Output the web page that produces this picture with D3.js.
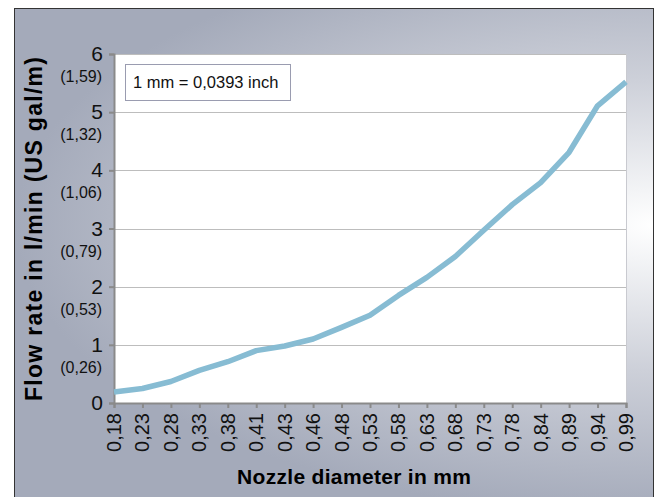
<!DOCTYPE html>
<html>
<head>
<meta charset="utf-8">
<script src="https://cdn.jsdelivr.net/npm/d3@7"></script>
<style>
  html, body { margin: 0; padding: 0; background: #fff; }
  svg { display: block; font-family: Arial, "Liberation Sans", sans-serif; }
</style>
</head>
<body>
<svg id="chart" width="658" height="497"></svg>
<script>
const categories = ["0,18","0,23","0,28","0,33","0,38","0,41","0,43","0,46","0,48","0,53","0,58","0,63","0,68","0,73","0,78","0,84","0,89","0,94","0,99"];
const flowValues = [0.19,0.25,0.37,0.56,0.71,0.90,0.98,1.10,1.30,1.51,1.85,2.16,2.52,2.97,3.41,3.79,4.31,5.11,5.52];
const yTicks = [0,1,2,3,4,5,6];
const yGalLabels = ["", "(0,26)", "(0,53)", "(0,79)", "(1,06)", "(1,32)", "(1,59)"];
const yTitle = "Flow rate in l/min (US gal/m)";
const xTitle = "Nozzle diameter in mm";
const noteText = "1 mm = 0,0393 inch";

const svg = d3.select("#chart");
const defs = svg.append("defs");
const grad = defs.append("radialGradient")
  .attr("id", "bg").attr("gradientUnits", "userSpaceOnUse")
  .attr("cx", 0).attr("cy", 0).attr("r", 1)
  .attr("gradientTransform", "translate(655,225) scale(640,290)");
grad.append("stop").attr("offset", 0).attr("stop-color", "#ffffff");
grad.append("stop").attr("offset", 0.12).attr("stop-color", "#f3f4f6");
grad.append("stop").attr("offset", 0.5).attr("stop-color", "#cdd0d9");
grad.append("stop").attr("offset", 1).attr("stop-color", "#a4aaba");

svg.append("rect").attr("x", 14.5).attr("y", 8.5).attr("width", 639).attr("height", 500)
  .attr("fill", "url(#bg)").attr("stroke", "#333").attr("stroke-width", 1);

const pL = 114, pR = 626, pT = 54, pB = 403;
const x = d3.scalePoint().domain(categories).range([pL, pR]).padding(0);
const y = d3.scaleLinear().domain([0, 6]).range([pB, pT]);

// plot area
svg.append("rect").attr("x", pL).attr("y", pT).attr("width", pR - pL).attr("height", pB - pT)
  .attr("fill", "#fff");
svg.append("line").attr("x1", pR + 0.5).attr("x2", pR + 0.5).attr("y1", pT).attr("y2", pB)
  .attr("stroke", "#c9cad0").attr("stroke-width", 1);

// gridlines
svg.append("g").selectAll("line").data(yTicks.filter(d => d > 0)).join("line")
  .attr("x1", pL).attr("x2", pR)
  .attr("y1", d => Math.round(y(d)) + 0.5).attr("y2", d => Math.round(y(d)) + 0.5)
  .attr("stroke", "#bdbdbd").attr("stroke-width", 1.2);

// y axis
const yAxis = svg.append("g").attr("transform", `translate(${pL},0)`)
  .call(d3.axisLeft(y).tickValues(yTicks).tickSize(5).tickFormat(""));
yAxis.select(".domain").attr("stroke", "#8a8a8a").attr("stroke-width", 2);
yAxis.selectAll(".tick line").attr("stroke", "#8a8a8a").attr("stroke-width", 2);

svg.append("g").selectAll("text").data(yTicks).join("text")
  .attr("x", 103).attr("y", d => y(d) + 7)
  .attr("text-anchor", "end").attr("font-size", 21).attr("fill", "#111")
  .text(d => d);
svg.append("g").selectAll("text").data(yTicks).join("text")
  .attr("x", 102).attr("y", d => y(d) + 28)
  .attr("text-anchor", "end").attr("font-size", 16).attr("fill", "#111")
  .text((d, i) => yGalLabels[i]);

// x axis
const xAxis = svg.append("g").attr("transform", `translate(0,${pB})`)
  .call(d3.axisBottom(x).tickSize(5).tickFormat(""));
xAxis.select(".domain").attr("stroke", "#8a8a8a").attr("stroke-width", 2);
xAxis.selectAll(".tick line").attr("stroke", "#8a8a8a").attr("stroke-width", 2);

svg.append("g").selectAll("text").data(categories).join("text")
  .attr("transform", d => `translate(${x(d) + 7},${pB + 10}) rotate(-90)`)
  .attr("text-anchor", "end").attr("font-size", 20).attr("fill", "#111")
  .text(d => d);

// line
const line = d3.line().x((d, i) => x(categories[i])).y(d => y(d));
svg.append("path").datum(flowValues).attr("d", line)
  .attr("fill", "none").attr("stroke", "#87bcd3").attr("stroke-width", 5.5)
  .attr("stroke-linejoin", "round");

// note box
svg.append("rect").attr("x", 125.5).attr("y", 64.5).attr("width", 165).attr("height", 36)
  .attr("fill", "#fff").attr("stroke", "#9a9cb0").attr("stroke-width", 1);
svg.append("text").attr("x", 133).attr("y", 88).attr("font-size", 16.5).attr("fill", "#111").text(noteText);

// titles
svg.append("text").attr("transform", "translate(42,229) rotate(-90)")
  .attr("text-anchor", "middle").attr("font-size", 23).attr("font-weight", "bold").attr("fill", "#000")
  .attr("textLength", 344).attr("lengthAdjust", "spacing")
  .text(yTitle);
svg.append("text").attr("x", 354).attr("y", 484)
  .attr("text-anchor", "middle").attr("font-size", 21).attr("font-weight", "bold").attr("fill", "#000")
  .attr("textLength", 234).attr("lengthAdjust", "spacing")
  .text(xTitle);
</script>
</body>
</html>
